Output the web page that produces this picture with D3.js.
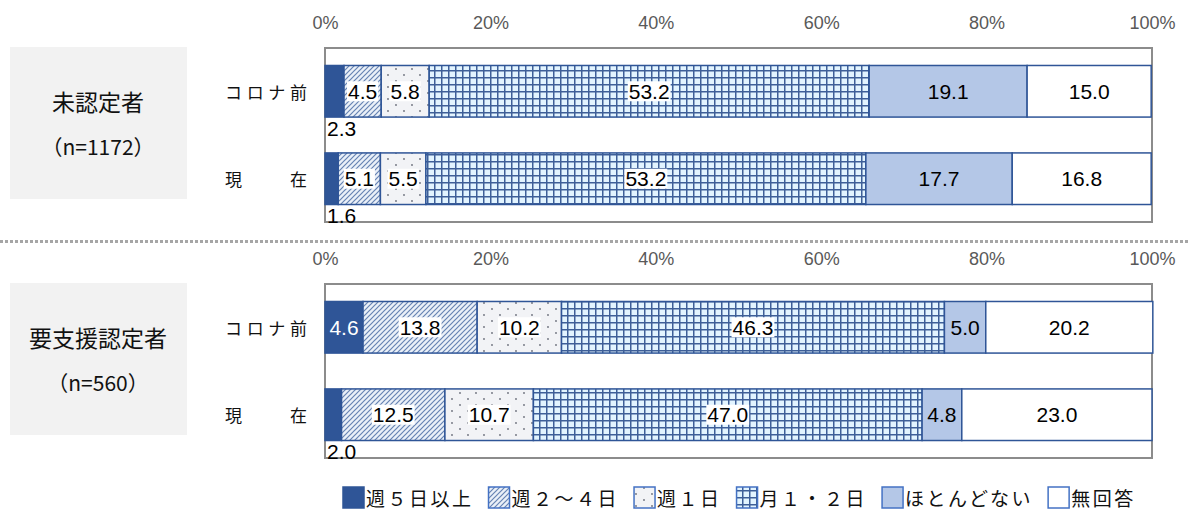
<!DOCTYPE html>
<html><head><meta charset="utf-8">
<script src="https://cdn.jsdelivr.net/npm/d3@7"></script>
<style>
html,body{margin:0;padding:0;background:#fff;}
svg{display:block;}
</style></head>
<body><svg id="c" width="1189" height="511"></svg>
<script>
// ---- data ----
const groups = ["未認定者", "要支援認定者"];
const groupN = ["（n=1172）", "（n=560）"];
const categories = ["コロナ前", "現　　在"];
const series = ["週５日以上", "週２～４日", "週１日", "月１・２日", "ほとんどない", "無回答"];
const mininteiBefore = [2.3, 4.5, 5.8, 53.2, 19.1, 15.0];
const mininteiNow    = [1.6, 5.1, 5.5, 53.2, 17.7, 16.8];
const youshienBefore = [4.6, 13.8, 10.2, 46.3, 5.0, 20.2];
const youshienNow    = [2.0, 12.5, 10.7, 47.0, 4.8, 23.0];
const tickValues = [0, 20, 40, 60, 80, 100];

const panelData = [
  [mininteiBefore, mininteiNow],
  [youshienBefore, youshienNow]
];

// ---- layout ----
const W = 1189, H = 511;
const svg = d3.select("#c");
const jp = "'Noto Sans CJK JP','Noto Sans',sans-serif";
const num = "'Liberation Sans',Arial,sans-serif";
const border = "#2f5597";

const defs = svg.append("defs");
// hatch
const ph = defs.append("pattern").attr("id","hatch").attr("patternUnits","userSpaceOnUse")
  .attr("width",5).attr("height",5);
ph.append("rect").attr("width",5).attr("height",5).attr("fill","#eaf0f8");
ph.append("path").attr("d","M-1,1 l2,-2 M0,5 l5,-5 M4,6 l2,-2").attr("stroke","#6683b3").attr("stroke-width",1.2);
// dots
const pd = defs.append("pattern").attr("id","dots").attr("patternUnits","userSpaceOnUse")
  .attr("width",16).attr("height",12);
pd.append("rect").attr("width",16).attr("height",12).attr("fill","#f2f3f6");
pd.append("circle").attr("cx",4).attr("cy",3).attr("r",0.9).attr("fill","#6a6f7a");
pd.append("circle").attr("cx",12).attr("cy",9).attr("r",0.9).attr("fill","#6a6f7a");
// grid
const pg = defs.append("pattern").attr("id","grid").attr("patternUnits","userSpaceOnUse")
  .attr("width",7).attr("height",7);
pg.append("rect").attr("width",7).attr("height",7).attr("fill","#e2f4ff");
pg.append("path").attr("d","M0,0.75 H7 M0.75,0 V7").attr("stroke","#3e5f98").attr("stroke-width",1.5);

const fills = ["#2f5597", "url(#hatch)", "url(#dots)", "url(#grid)", "#b4c7e7", "#ffffff"];
const boxed = [false, true, true, true, false, false];

const x = d3.scaleLinear().domain([0, 100]).range([325, 1152]);
const panelTops = [48, 284];
const panelH = 174;

// separator
svg.append("line").attr("x1",0).attr("x2",W).attr("y1",241.5).attr("y2",241.5)
  .attr("stroke","#a6a6a6").attr("stroke-width",3).attr("stroke-dasharray","3,2");

panelData.forEach((rows, gi) => {
  const top = panelTops[gi];
  const y = d3.scaleBand().domain(categories).range([top, top + panelH])
    .paddingInner(0.41).paddingOuter(0.2);
  const g = svg.append("g");

  // group box
  const boxTop = top - 1, boxH = 152;
  g.append("rect").attr("x",10).attr("y",boxTop).attr("width",177).attr("height",boxH).attr("fill","#f2f2f2");
  const cy = boxTop + boxH/2;
  g.append("text").attr("x",98).attr("y",cy - 22).attr("text-anchor","middle").attr("dominant-baseline","central")
    .attr("font-family",jp).attr("font-size",23).attr("fill","#111").text(groups[gi]);
  g.append("text").attr("x",98).attr("y",cy + 23).attr("text-anchor","middle").attr("dominant-baseline","central")
    .attr("font-family",jp).attr("font-size",21).attr("fill","#111").text(groupN[gi]);

  // axis
  const ax = g.append("g").attr("transform",`translate(0,${top - 25})`)
    .call(d3.axisTop(x).tickValues(tickValues).tickSize(0).tickPadding(0).tickFormat(d => d + "%"));
  ax.select(".domain").remove();
  ax.selectAll("text").attr("font-family",num).attr("font-size",18).attr("fill","#595959")
    .attr("dy","0.35em").attr("y",0);

  // frame
  g.append("rect").attr("x",x(0)).attr("y",top).attr("width",x(100)-x(0)).attr("height",panelH)
    .attr("fill","none").attr("stroke","#8c8c8c").attr("stroke-width",2);

  // row labels
  g.selectAll(".rl").data(categories).join("text")
    .attr("x",225).attr("y",d => y(d) + y.bandwidth()/2)
    .attr("dominant-baseline","central").attr("font-family",jp).attr("font-size",17).attr("fill","#111")
    .attr("textLength",82).attr("lengthAdjust","spacing").text(d => d);

  rows.forEach((vals, ri) => {
    const cat = categories[ri];
    const cum = d3.cumsum(vals);
    const segs = vals.map((v, i) => ({v, i, x0: i ? cum[i-1] : 0, x1: cum[i]}));
    const by = y(cat), bh = y.bandwidth();
    g.selectAll(null).data(segs).join("rect")
      .attr("x", d => x(d.x0)).attr("y", by)
      .attr("width", d => x(d.x1) - x(d.x0)).attr("height", bh)
      .attr("fill", d => fills[d.i]).attr("stroke", border).attr("stroke-width",1.5);

    segs.forEach(d => {
      const small = d.i === 0 && d.v < 3;
      const tx = small ? x(0) + 2 : (x(d.x0) + x(d.x1)) / 2;
      const ty = small ? by + bh + 11 : by + bh/2;
      const t = g.append("text").attr("x", tx).attr("y", ty)
        .attr("text-anchor", small ? "start" : "middle").attr("dominant-baseline","central")
        .attr("font-family", num).attr("font-size", 21)
        .attr("fill", (d.i === 0 && !small) ? "#fff" : "#000")
        .text(d.v.toFixed(1));
      if (boxed[d.i] && !small) {
        const bb = t.node().getBBox();
        g.insert("rect", () => t.node()).attr("x", bb.x - 1).attr("y", by + bh/2 - 10)
          .attr("width", bb.width + 2).attr("height", 20).attr("fill","#fff");
      }
    });
  });
});

// legend
const lg = svg.append("g").attr("transform","translate(0,497)");
let lx = 343;
series.forEach((s, i) => {
  lg.append("rect").attr("x", lx).attr("y", -10).attr("width", 21).attr("height", 21)
    .attr("fill", fills[i]).attr("stroke", i === 0 ? border : "#4472c4").attr("stroke-width", 1.5);
  const t = lg.append("text").attr("x", lx + 23).attr("y", 0).attr("dominant-baseline","central")
    .attr("font-family", jp).attr("font-size", 19).attr("letter-spacing", 2.5).attr("fill","#111").text(s);
  lx += 23 + t.node().getComputedTextLength() + 15;
});
</script></body></html>
